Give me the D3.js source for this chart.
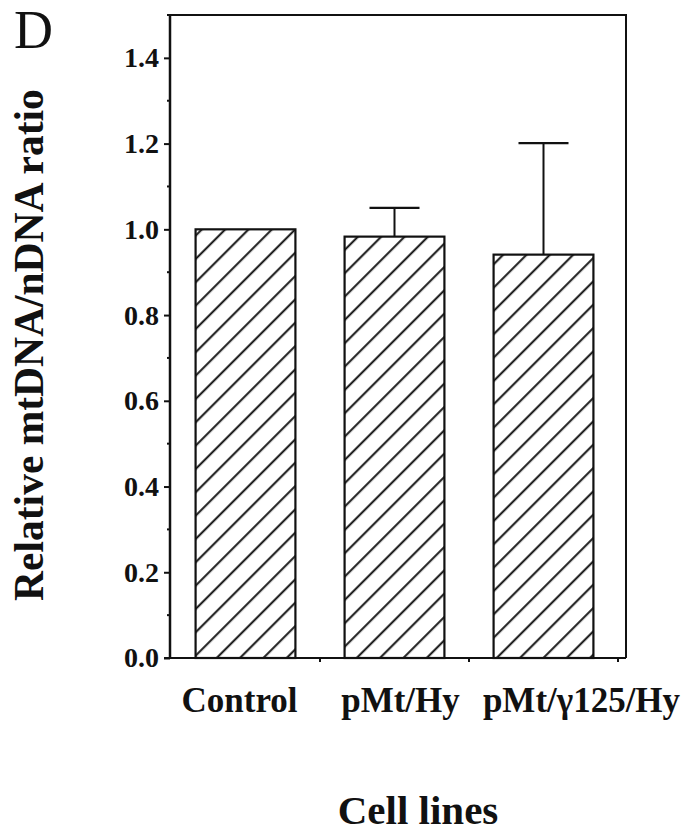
<!DOCTYPE html>
<html lang="en">
<head>
  <meta charset="UTF-8">
  <title>Relative mtDNA/nDNA ratio</title>
  <script src="https://d3js.org/d3.v7.min.js"></script>
</head>
<body style="margin: 0; padding: 0; overflow: hidden; background: #fff;">
  <svg id="chart"></svg>

  <script>
    // data
    const categories = ["Control", "pMt/Hy", "pMt/\u03b3125/Hy"];
    const ratios = [1.0, 0.983, 0.941];
    const errors = [0, 0.067, 0.26];
    const yTicks = [0, 0.2, 0.4, 0.6, 0.8, 1.0, 1.2, 1.4];

    const W = 684, H = 833;
    const font = "'Liberation Serif', 'Times New Roman', serif";

    const svg = d3.select("#chart")
      .attr("width", W)
      .attr("height", H);

    const plotLeft = 170, plotRight = 626, plotTop = 15, plotBottom = 658;

    const x = d3.scaleBand()
      .domain(categories)
      .range([171, 618])
      .paddingInner(0.33)
      .paddingOuter(0.165);

    const y = d3.scaleLinear()
      .domain([0, 1.5])
      .range([plotBottom, plotTop]);

    // hatch fill
    const pattern = svg.append("defs").append("pattern")
      .attr("id", "hatch")
      .attr("patternUnits", "userSpaceOnUse")
      .attr("width", 16.5)
      .attr("height", 16.5)
      .attr("patternTransform", "rotate(45)");
    pattern.append("rect")
      .attr("width", 16.5).attr("height", 16.5).attr("fill", "#fff");
    pattern.append("line")
      .attr("x1", 8).attr("y1", -1).attr("x2", 8).attr("y2", 17.5)
      .attr("stroke", "#111").attr("stroke-width", 2);

    // frame top + right
    svg.append("path")
      .attr("d", `M${plotLeft},${plotTop} H${plotRight} V${plotBottom}`)
      .attr("fill", "none")
      .attr("stroke", "#111")
      .attr("stroke-width", 2);

    // bars
    svg.selectAll(".bar")
      .data(categories)
      .enter()
      .append("rect")
      .attr("class", "bar")
      .attr("x", d => x(d))
      .attr("y", (d, i) => y(ratios[i]))
      .attr("width", x.bandwidth())
      .attr("height", (d, i) => y(0) - y(ratios[i]))
      .attr("fill", "url(#hatch)")
      .attr("stroke", "#111")
      .attr("stroke-width", 2.2);

    // error bars (upper only)
    const capW = 50;
    const errData = categories
      .map((c, i) => ({ c, v: ratios[i], e: errors[i] }))
      .filter(d => d.e > 0);
    const err = svg.selectAll(".err")
      .data(errData)
      .enter()
      .append("g")
      .attr("class", "err");
    err.append("line")
      .attr("x1", d => x(d.c) + x.bandwidth() / 2)
      .attr("x2", d => x(d.c) + x.bandwidth() / 2)
      .attr("y1", d => y(d.v))
      .attr("y2", d => y(d.v + d.e))
      .attr("stroke", "#111").attr("stroke-width", 2);
    err.append("line")
      .attr("x1", d => x(d.c) + x.bandwidth() / 2 - capW / 2)
      .attr("x2", d => x(d.c) + x.bandwidth() / 2 + capW / 2)
      .attr("y1", d => y(d.v + d.e))
      .attr("y2", d => y(d.v + d.e))
      .attr("stroke", "#111").attr("stroke-width", 2.2);

    // y axis with minor ticks
    const yAxis = svg.append("g")
      .attr("transform", `translate(${plotLeft},0)`)
      .call(d3.axisLeft(y).tickValues(yTicks).tickFormat(d3.format(".1f")).tickSize(6).tickPadding(5));
    yAxis.select(".domain").remove();
    yAxis.selectAll("line").attr("stroke", "#111").attr("stroke-width", 2);
    yAxis.selectAll("text")
      .attr("font-family", font)
      .attr("font-weight", "bold")
      .attr("font-size", 28)
      .attr("fill", "#111");
    yAxis.selectAll(".minor")
      .data(yTicks.map(v => v + 0.1))
      .enter()
      .append("line")
      .attr("class", "minor")
      .attr("x1", -3).attr("x2", 0)
      .attr("y1", d => y(d)).attr("y2", d => y(d))
      .attr("stroke", "#111").attr("stroke-width", 2);
    svg.append("line")
      .attr("x1", plotLeft).attr("x2", plotLeft)
      .attr("y1", plotTop).attr("y2", plotBottom)
      .attr("stroke", "#111").attr("stroke-width", 2.5);

    // x axis: baseline, ticks at band boundaries
    svg.append("line")
      .attr("x1", plotLeft - 6).attr("x2", plotRight)
      .attr("y1", plotBottom).attr("y2", plotBottom)
      .attr("stroke", "#111").attr("stroke-width", 2.2);
    const boundary = d => x(d) + x.bandwidth() + x.paddingInner() * x.step() / 2;
    svg.selectAll(".xtick")
      .data(categories)
      .enter()
      .append("line")
      .attr("class", "xtick")
      .attr("x1", boundary)
      .attr("x2", boundary)
      .attr("y1", plotBottom).attr("y2", plotBottom + 4)
      .attr("stroke", "#111").attr("stroke-width", 2);

    // category labels
    const labelShift = [-6, 6, 38];
    svg.selectAll(".xlabel")
      .data(categories)
      .enter()
      .append("text")
      .attr("class", "xlabel")
      .attr("x", (d, i) => x(d) + x.bandwidth() / 2 + labelShift[i])
      .attr("y", 712)
      .attr("text-anchor", "middle")
      .attr("font-family", font)
      .attr("font-weight", "bold")
      .attr("font-size", 35)
      .attr("fill", "#111")
      .text(d => d);

    // axis titles
    svg.append("text")
      .attr("transform", "translate(43,345) rotate(-90)")
      .attr("text-anchor", "middle")
      .attr("font-family", font)
      .attr("font-weight", "bold")
      .attr("font-size", 41.5)
      .attr("fill", "#111")
      .text("Relative mtDNA/nDNA ratio");

    svg.append("text")
      .attr("x", 418)
      .attr("y", 824)
      .attr("text-anchor", "middle")
      .attr("font-family", font)
      .attr("font-weight", "bold")
      .attr("font-size", 41)
      .attr("fill", "#111")
      .text("Cell lines");

    // panel letter
    svg.append("text")
      .attr("x", 14)
      .attr("y", 48)
      .attr("font-family", font)
      .attr("font-size", 54)
      .attr("fill", "#111")
      .text("D");
  </script>
</body>
</html>
